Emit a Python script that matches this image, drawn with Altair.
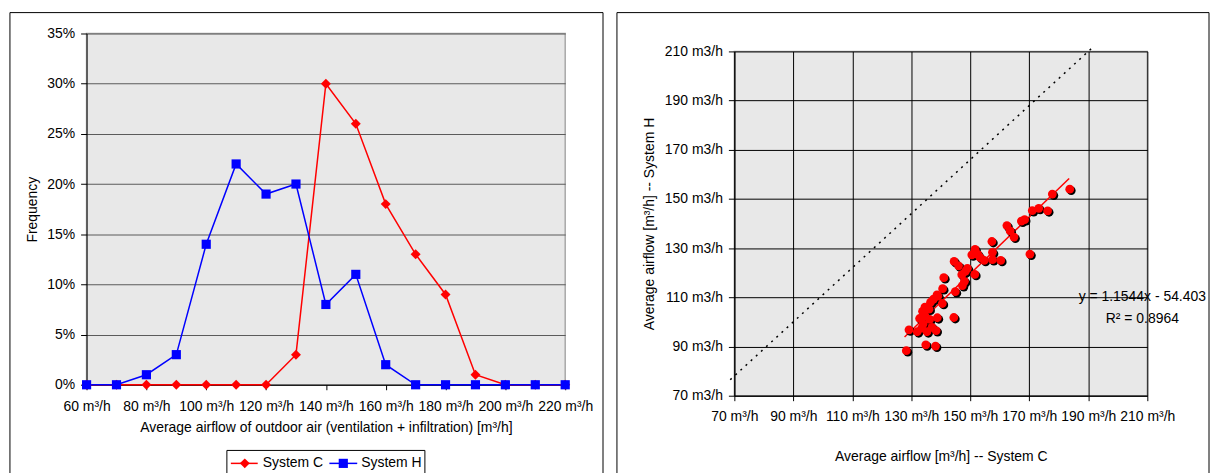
import altair as alt
import pandas as pd

# ---------------- Left panel: frequency distribution ----------------
airflow_bins = [60, 70, 80, 90, 100, 110, 120, 130, 140, 150, 160, 170, 180, 190, 200, 210, 220]
freq_system_c = [0, 0, 0, 0, 0, 0, 0, 3, 30, 26, 18, 13, 9, 1, 0, 0, 0]
freq_system_h = [0, 0, 1, 3, 14, 22, 19, 20, 8, 11, 2, 0, 0, 0, 0, 0, 0]
series_names = ["System C", "System H"]
series_colors = ["#FF0000", "#0000FF"]
series_shapes = ["diamond", "square"]
left_x_ticks = [60, 80, 100, 120, 140, 160, 180, 200, 220]
left_y_ticks = [0, 5, 10, 15, 20, 25, 30, 35]

# ---------------- Right panel: System C vs System H ----------------
scatter_c = [128.3, 134.9, 138.2, 129.2, 132.0, 133.5, 135.3, 137.0, 138.4, 134.0,
             132.8, 134.6, 136.2, 138.8, 144.4, 133.8, 134.6, 136.0, 136.5, 137.5,
             139.0, 140.5, 140.6, 141.0, 138.7, 144.9, 147.3, 148.0, 147.1, 148.3,
             149.0, 151.5, 146.0, 144.5, 150.5, 151.6, 152.5, 153.3, 154.7, 157.3,
             157.5, 157.5, 160.3, 162.4, 163.5, 164.8, 167.3, 168.4, 170.2, 171.0,
             173.2, 176.2, 177.8, 183.7]
scatter_h = [88.3, 90.7, 90.2, 96.8, 96.0, 97.5, 96.0, 97.8, 96.5, 99.2,
             101.4, 102.5, 101.0, 101.7, 101.8, 104.3, 106.0, 105.2, 108.0, 109.3,
             110.5, 107.5, 113.5, 118.0, 111.0, 112.3, 114.8, 116.5, 119.2, 120.5,
             121.8, 119.3, 122.8, 124.6, 127.3, 129.5, 127.5, 126.2, 125.0, 132.7,
             128.3, 125.3, 125.0, 139.2, 137.0, 134.5, 141.0, 141.6, 127.6, 145.3,
             146.2, 145.2, 152.0, 154.0]
diag_c = [68.6, 191.8]
diag_h = [76.5, 212.0]
trend_c = [127.7, 183.5]
trend_h = [93.9, 158.3]
equation_lines = ["y = 1.1544x - 54.403", "R² = 0.8964"]
right_ticks = [70, 90, 110, 130, 150, 170, 190, 210]

FONT = "Liberation Sans"

# ---------------- build tables ----------------
left_df = pd.DataFrame({
    "airflow": airflow_bins * 2,
    "freq": freq_system_c + freq_system_h,
    "series": [series_names[0]] * len(airflow_bins) + [series_names[1]] * len(airflow_bins),
})
scatter_df = pd.DataFrame({"c": scatter_c, "h": scatter_h})
diag_df = pd.DataFrame({"c": diag_c, "h": diag_h})
trend_df = pd.DataFrame({"c": trend_c, "h": trend_h})
one_row = pd.DataFrame({"k": [0]})

# ---------------- left chart ----------------
lx = alt.X("airflow:Q", scale=alt.Scale(domain=[60, 220], nice=False, zero=False),
           axis=alt.Axis(values=left_x_ticks, labelExpr="datum.value + ' m³/h'", grid=False,
                         tickSize=5, labelPadding=10, labelOverlap=False, labelFlush=False,
                         title="Average airflow of outdoor air (ventilation + infiltration) [m³/h]",
                         titlePadding=7))
ly = alt.Y("freq:Q", scale=alt.Scale(domain=[0, 35], nice=False),
           axis=alt.Axis(values=left_y_ticks, labelExpr="datum.value + '%'", grid=True,
                         gridColor="#5A5A5A", gridWidth=1, tickSize=6, labelPadding=6,
                         title="Frequency", titlePadding=7))
color_scale = alt.Scale(domain=series_names, range=series_colors)

# panel frame (runs past the bottom edge of the page, as in the original)
left_border = alt.Chart(one_row).mark_rect(filled=False, color="black", strokeWidth=1).encode(
    x=alt.value(-77), x2=alt.value(519), y=alt.value(-21), y2=alt.value(488))

left_lines = alt.Chart(left_df).mark_line(strokeWidth=1.5).encode(
    x=lx, y=ly, color=alt.Color("series:N", scale=color_scale, legend=None))

pts_c = alt.Chart(left_df).transform_filter(alt.datum.series == series_names[0]).mark_point(
    shape=series_shapes[0], filled=True, opacity=1, size=100).encode(
    x=lx, y=ly, color=alt.Color("series:N", scale=color_scale, legend=None))
pts_h = alt.Chart(left_df).transform_filter(alt.datum.series == series_names[1]).mark_point(
    shape=series_shapes[1], filled=True, opacity=1, size=85).encode(
    x=lx, y=ly, color=alt.Color("series:N", scale=color_scale, legend=None))

# legend box (drawn below the plot, as in the original)
legend_parts = [
    alt.Chart(one_row).mark_rect(fill="white", stroke="black", strokeWidth=1).encode(
        x=alt.value(141), x2=alt.value(340), y=alt.value(419), y2=alt.value(452))
]
legend_slots = [(145, 172, 159, 177), (244, 272, 258, 276)]  # line start, line end, marker, label (px)
for i, (l0, l1, mk, lb) in enumerate(legend_slots):
    legend_parts.append(alt.Chart(one_row).mark_rule(color=series_colors[i], strokeWidth=1.5).encode(
        x=alt.value(l0), x2=alt.value(l1), y=alt.value(432)))
    legend_parts.append(alt.Chart(one_row).mark_point(
        shape=series_shapes[i], filled=True, opacity=1, color=series_colors[i],
        size=100 if i == 0 else 85).encode(x=alt.value(mk), y=alt.value(432)))
    legend_parts.append(alt.Chart(one_row).mark_text(
        align="left", baseline="middle", fontSize=14, font=FONT, color="black").encode(
        x=alt.value(lb), y=alt.value(432), text=alt.value(series_names[i])))

left = alt.layer(left_border, left_lines, pts_c, pts_h, *legend_parts).properties(width=481, height=353)

# ---------------- right chart ----------------
rx = alt.X("c:Q", scale=alt.Scale(domain=[70, 210], nice=False, zero=False),
           axis=alt.Axis(values=right_ticks, labelExpr="datum.value + ' m³/h'", grid=True,
                         gridColor="black", gridWidth=1, tickSize=5, labelPadding=9,
                         labelOverlap=False, labelFlush=False,
                         title="Average airflow [m³/h] -- System C", titlePadding=26))
ry = alt.Y("h:Q", scale=alt.Scale(domain=[70, 210], nice=False, zero=False),
           axis=alt.Axis(values=right_ticks, labelExpr="datum.value + ' m3/h'", grid=True,
                         gridColor="black", gridWidth=1, tickSize=6, labelPadding=6,
                         labelOverlap=False, labelFlush=False,
                         title="Average airflow [m³/h] -- System H", titlePadding=8))

right_border = alt.Chart(one_row).mark_rect(filled=False, color="black", strokeWidth=1).encode(
    x=alt.value(-118), x2=alt.value(477), y=alt.value(-39), y2=alt.value(452))

diag = alt.Chart(diag_df).mark_line(color="black", strokeWidth=1.5, strokeDash=[2, 5]).encode(x=rx, y=ry)
trend = alt.Chart(trend_df).mark_line(color="#FF0000", strokeWidth=1.5).encode(x=rx, y=ry)
shadow = alt.Chart(scatter_df).mark_circle(color="black", opacity=1, size=78, xOffset=1.5, yOffset=1.5).encode(x=rx, y=ry)
dots = alt.Chart(scatter_df).mark_circle(color="#FF0000", opacity=1, size=78).encode(x=rx, y=ry)
eq1 = alt.Chart(one_row).mark_text(align="center", baseline="middle", fontSize=14, font=FONT, color="black").encode(
    x=alt.datum(208.3), y=alt.datum(110.0), text=alt.value(equation_lines[0]))
eq2 = alt.Chart(one_row).mark_text(align="center", baseline="middle", fontSize=14, font=FONT, color="black").encode(
    x=alt.datum(208.3), y=alt.datum(101.0), text=alt.value(equation_lines[1]))

right = alt.layer(right_border, diag, trend, shadow, dots, eq1, eq2).properties(width=415, height=346)

chart = alt.hconcat(left, right, spacing=10, center=True).resolve_scale(
    color="independent"
).properties(
    padding={"left": 8, "top": 10, "right": 0, "bottom": 0},
    background="white",
).configure_view(
    fill="#E8E8E8", stroke="#A8A8A8", strokeWidth=1.5
).configure_axis(
    labelFont=FONT, titleFont=FONT, labelFontSize=14, titleFontSize=14, titleFontWeight="normal",
    labelColor="black", titleColor="black", domainColor="black", tickColor="black", domainWidth=1
)

chart.save("out.html", embed_options={"renderer": "svg", "actions": False})
